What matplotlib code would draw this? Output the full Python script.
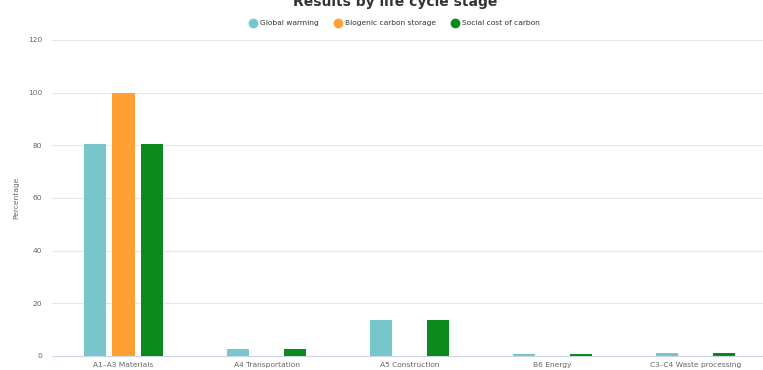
import numpy as np
import matplotlib.pyplot as plt
from matplotlib.lines import Line2D

stages = ['A1–A3 Materials', 'A4 Transportation', 'A5 Construction', 'B6 Energy', 'C3–C4 Waste processing']
series = ['Global warming', 'Biogenic carbon storage', 'Social cost of carbon']
global_warming = [80.5, 2.7, 13.8, 0.7, 1.0]
biogenic = [100, 0, 0, 0, 0]
social_cost = [80.5, 2.7, 13.8, 0.7, 1.0]
colors = ['#76c6cb', '#ffa033', '#0a8a1c']

fig = plt.figure(figsize=(7.63, 3.7), dpi=100)
ax = fig.add_axes([52 / 763, 14 / 370, 715 / 763, 316 / 370])

x = np.arange(len(stages))
w = 0.155
off = 0.2
for i, vals in enumerate([global_warming, biogenic, social_cost]):
    ax.bar(x + (i - 1) * off, vals, w, color=colors[i], zorder=3)

ax.set_xlim(-0.5, 4.5)
ax.set_ylim(0, 120)
ax.set_yticks(range(0, 121, 20))
ax.grid(axis='y', color='#e6e6e6', linewidth=0.8, zorder=0)
for s in ['top', 'right', 'left']:
    ax.spines[s].set_visible(False)
ax.spines['bottom'].set_color('#ccd6eb')
ax.set_xticks(x)
ax.set_xticklabels(stages)
ax.tick_params(axis='x', length=0, labelsize=5.4, colors='#666666', pad=4)
ax.tick_params(axis='y', length=0, labelsize=5.4, colors='#666666', pad=7)
ax.set_ylabel('Percentage', fontsize=5.4, color='#666666')
ax.yaxis.set_label_coords(-0.046, 0.5)

fig.text(395 / 763, 0.995, 'Results by life cycle stage', ha='center', va='center',
         fontsize=10, fontweight='bold', color='#333333')
handles = [Line2D([], [], marker='o', linestyle='none', markersize=6, color=c) for c in colors]
fig.legend(handles, series, loc='center', bbox_to_anchor=(395 / 763, 1 - 23 / 370), ncol=3,
           frameon=False, fontsize=5.4, labelcolor='#333333', handlelength=0.8,
           columnspacing=2.2, handletextpad=0.5)

fig.savefig('out.png', dpi=100)
